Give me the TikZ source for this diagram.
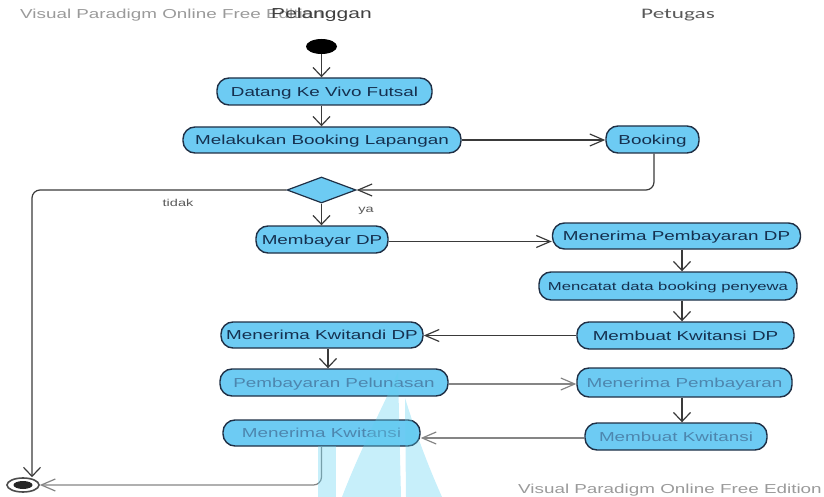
\documentclass[tikz,border=0pt]{standalone}
\usepackage{fontspec}
\setmainfont{Liberation Sans}
\newfontfamily\vpfont[FakeStretch=1.45]{Liberation Sans}
\newfontfamily\lanefont[FakeStretch=1.6]{Carlito}
\usetikzlibrary{arrows.meta,shapes.geometric}

\definecolor{boxfill}{HTML}{6DCBF3}
\definecolor{boxline}{HTML}{1F2F45}
\definecolor{boxtext}{HTML}{15304F}
\definecolor{fadetext}{HTML}{4D86AE}
\definecolor{flowline}{HTML}{3A3A3A}
\definecolor{fadeline}{HTML}{858585}
\definecolor{markgrey}{HTML}{9A9A9A}
\definecolor{logocyan}{HTML}{5FD0F0}

\begin{document}
\begin{tikzpicture}[x=1pt,y=-1pt,
  act/.style={draw=boxline, line width=1.4pt, fill=boxfill, rounded corners=12pt,
    font=\vpfont\fontsize{13}{15}\selectfont, text=boxtext,
    text height=9.3pt, text depth=0pt,
    inner xsep=2pt, inner ysep=0pt, minimum height=27pt},
  faded/.style={text=fadetext},
  flow/.style={draw=flowline, line width=1.2pt, rounded corners=8pt},
  harrow/.style={-{Straight Barb[length=14pt,width=12pt,line width=1.2pt]}},
  varrow/.style={-{Straight Barb[length=9pt,width=17pt,line width=1.2pt]}},
  guard/.style={font=\vpfont\fontsize{10}{12}\selectfont, text=black!65},
  wmark/.style={font=\vpfont\fontsize{13}{15}\selectfont, text=markgrey, inner sep=0pt, anchor=west},
]
\useasboundingbox (0,0) rectangle (824,497);

% edition marks and lane titles
\node[wmark] (wmtop) at (20,15) {Visual Paradigm Online Free Edition};
\node[wmark] (wmbot) at (518,490) {Visual Paradigm Online Free Edition};
\node[font=\vpfont\fontsize{14.5}{16}\selectfont, text=black!75, inner sep=0pt] (lane1) at (321.5,15) {Pelanggan};
\node[font=\lanefont\fontsize{14.5}{16}\selectfont, text=black!65, inner sep=0pt] (lane2) at (678,15) {Petugas};

% initial and final nodes
\node[ellipse, fill=black, minimum width=31pt, minimum height=15pt, inner sep=0pt] (start) at (321.5,46.5) {};
\node[ellipse, draw=black!70, line width=1.6pt, fill=white, minimum width=32pt, minimum height=14pt, inner sep=0pt] (fin) at (23,485) {};
\fill[black!85] (fin.center) ellipse [x radius=9.5pt, y radius=4pt];

% customer lane
\node[act, minimum width=215pt] (datang) at (324.5,91.5) {Datang Ke Vivo Futsal};
\node[act, minimum width=278pt, minimum height=26pt] (melak) at (322,140) {Melakukan Booking Lapangan};
\node[diamond, draw=boxline, line width=1.2pt, fill=boxfill, minimum width=69pt, minimum height=26pt, inner sep=0pt] (dia) at (321.5,190) {};
\node[act, minimum width=132pt] (membayar) at (322,239.5) {Membayar DP};
\node[act, minimum width=202pt, minimum height=26pt] (kwitandi) at (322,335) {Menerima Kwitandi DP};
\node[act, faded, minimum width=228pt] (pelunasan) at (334,382.5) {Pembayaran Pelunasan};
\node[act, faded, minimum width=197pt, minimum height=26pt] (terimakw) at (321.5,433) {Menerima Kwitansi};

% staff lane
\node[act, minimum width=93pt] (booking) at (652.5,139.5) {Booking};
\node[act, minimum width=248pt, minimum height=26pt] (terimadp) at (676.5,236) {Menerima Pembayaran DP};
\node[act, minimum width=258pt, minimum height=28pt, font=\vpfont\fontsize{11.5}{13}\selectfont, text height=8.3pt] (mencatat) at (668,286) {Mencatat data booking penyewa};
\node[act, minimum width=217pt] (membuatdp) at (685.5,335.5) {Membuat Kwitansi DP};
\node[act, faded, minimum width=215pt, minimum height=29pt] (terimabayar) at (684.5,382.5) {Menerima Pembayaran};
\node[act, faded, minimum width=182pt] (membuatkw) at (676,436.5) {Membuat Kwitansi};

% control flows
\draw[flow, varrow] (start.south) -- (start.south |- datang.north);
\draw[flow, varrow] (datang.south -| start.south) -- (start.south |- melak.north);
\draw[flow, harrow] (melak.east) -- (melak.east -| booking.west);
\draw[flow, harrow] ([xshift=1.5pt]booking.south) |- (dia.east);
\draw[flow, varrow] (dia.south) -- (dia.south |- membayar.north);
\draw[flow, varrow] (dia.west) -| ([xshift=9pt]fin.north);
\draw[flow, harrow] ([yshift=-2pt]membayar.east) -- ([yshift=-2pt]membayar.east -| terimadp.west);
\draw[flow, varrow] ([xshift=5.5pt]terimadp.south) -- ([xshift=5.5pt]terimadp.south |- mencatat.north);
\draw[flow, varrow] ([xshift=5.5pt]terimadp.south |- mencatat.south) -- ([xshift=5.5pt]terimadp.south |- membuatdp.north);
\draw[flow, harrow] (membuatdp.west) -- (membuatdp.west -| kwitandi.east);
\draw[flow, varrow] ([xshift=6pt]kwitandi.south) -- ([xshift=6pt]kwitandi.south |- pelunasan.north);
\draw[flow, harrow, draw=fadeline] ([yshift=-1.5pt]pelunasan.east) -- ([yshift=-1.5pt]pelunasan.east -| terimabayar.west);
\draw[flow, varrow] ([xshift=-2.5pt]terimabayar.south) -- ([xshift=-2.5pt]terimabayar.south |- membuatkw.north);
\draw[flow, harrow, draw=fadeline] ([yshift=-1.5pt]membuatkw.west) -- ([yshift=-1.5pt]membuatkw.west -| terimakw.east);
\draw[flow, harrow, draw=fadeline] (terimakw.south) |- (fin.east);

% guard labels
\node[guard] (tidak) at (178,203) {tidak};
\node[guard] (ya) at (366,211) {ya};

% faint logo behind the lower rows
\begin{scope}[fill=logocyan, fill opacity=0.35]
  \fill (318,446) rectangle (336,497);
  \fill (342,497) .. controls (362,445) and (384,405) .. (398,372) -- (401,497) -- cycle;
  \fill (405,398) .. controls (418,440) and (430,470) .. (442,497) -- (406,497) -- cycle;
\end{scope}
\end{tikzpicture}
\end{document}
